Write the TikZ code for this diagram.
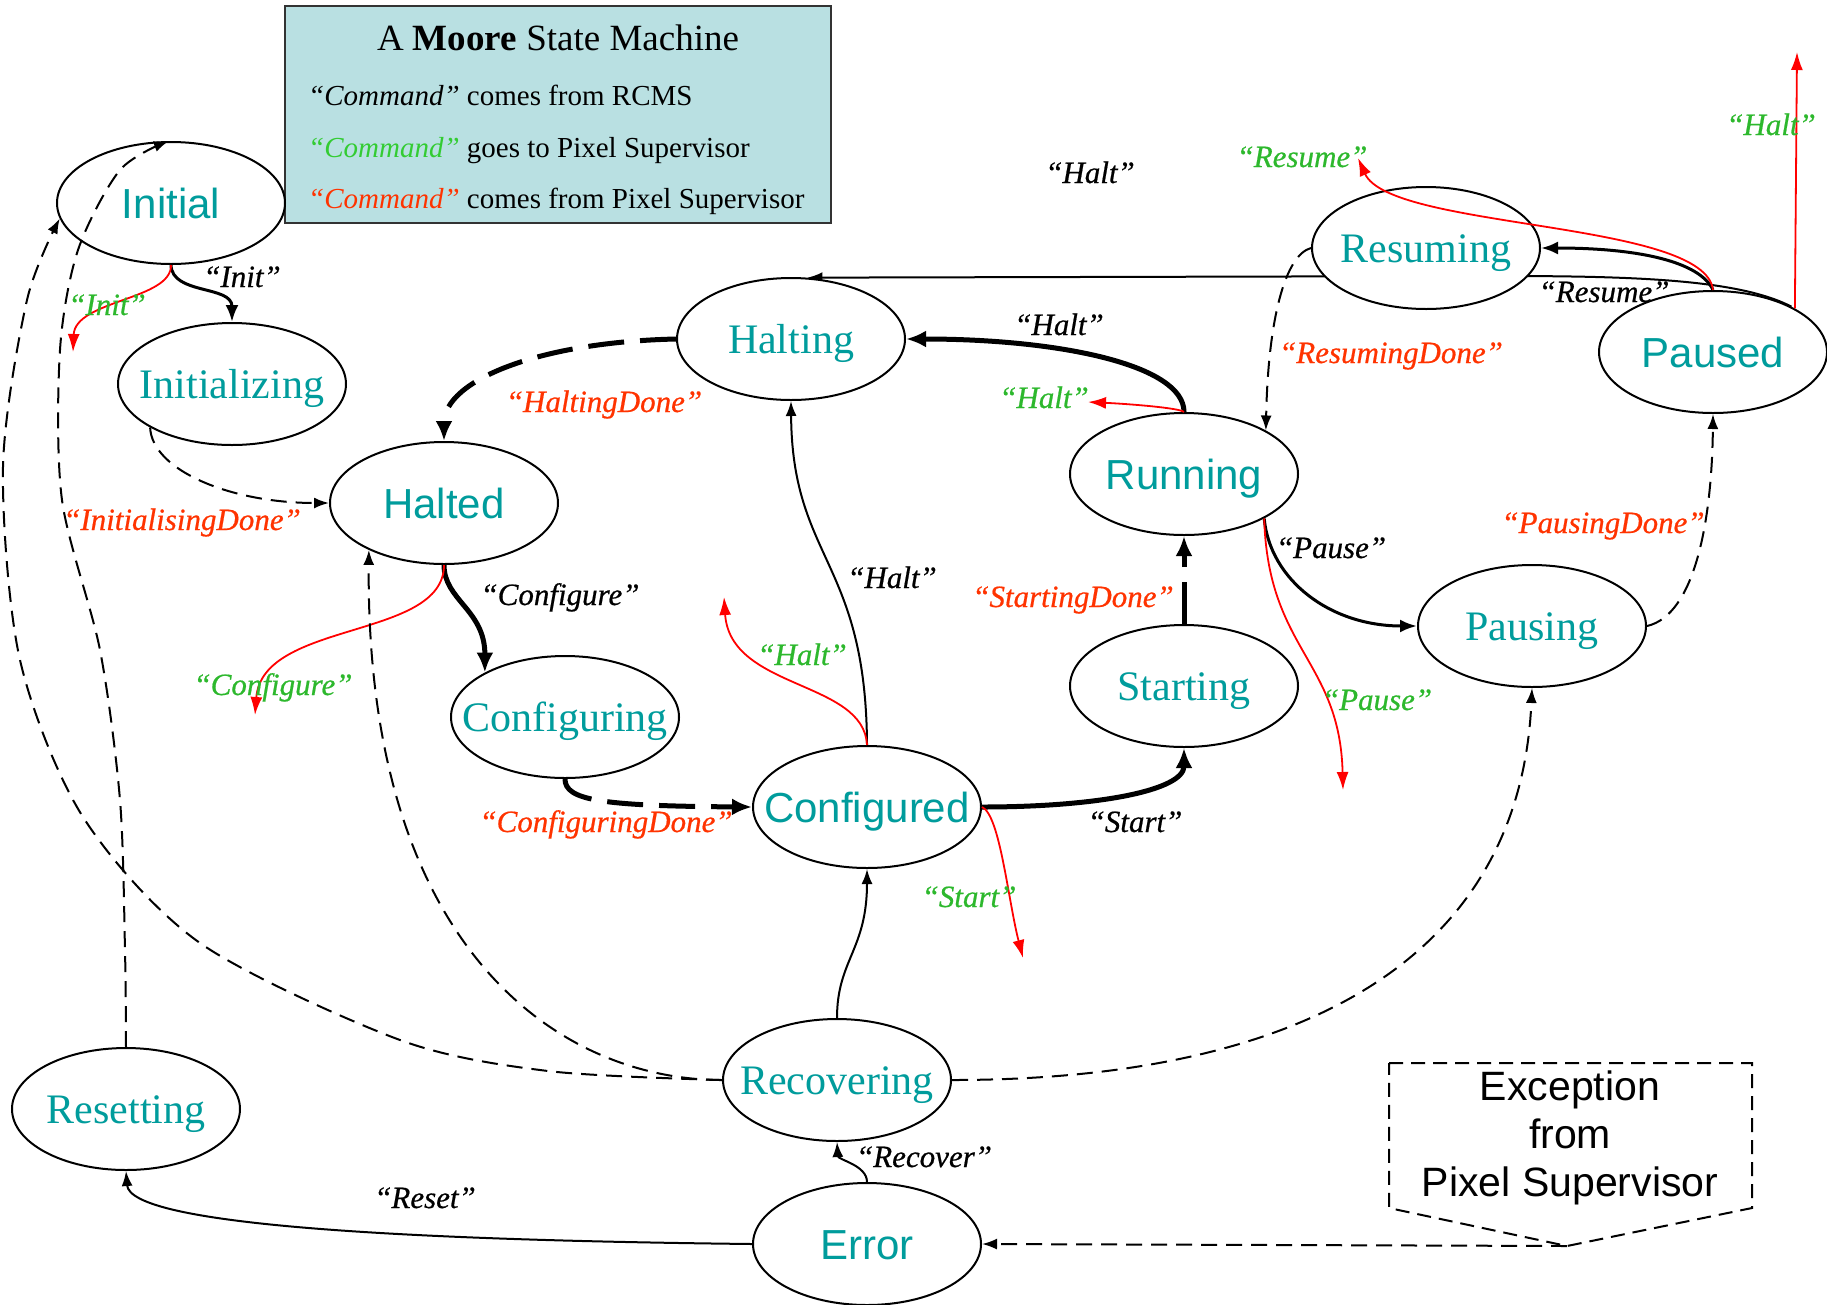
\documentclass[tikz,border=0pt]{standalone}
\usepackage{fontspec}
\setmainfont{Liberation Serif}
\setsansfont{Liberation Sans}
\usetikzlibrary{shapes.geometric,arrows.meta}
\definecolor{teal1}{HTML}{009C9C}
\definecolor{legfill}{HTML}{B9E0E2}
\definecolor{grn}{HTML}{2DB82D}
\definecolor{lgrn}{HTML}{33CC33}
\definecolor{rlabc}{HTML}{FF3300}
\definecolor{rline}{HTML}{FF0000}
\pgfdeclarelayer{bg}
\pgfsetlayers{bg,main}
\tikzset{
 st/.style={ellipse, draw, line width=2pt, fill=white, minimum width=228pt, minimum height=122pt, inner sep=0pt},
 sansname/.style={text height=30pt, text depth=0pt, text=teal1, font=\sffamily\fontsize{42}{42}\selectfont, inner sep=0pt},
 serifname/.style={text height=28pt, text depth=0pt, text=teal1, font=\rmfamily\fontsize{42}{42}\selectfont, inner sep=0pt},
 lab/.style={anchor=base, inner sep=0pt, font=\itshape\fontsize{31}{31}\selectfont\addfontfeature{FakeBold=0.6}},
 blab/.style={lab, text=black},
 glab/.style={lab, text=grn},
 rlab/.style={lab, text=rlabc},
 edge/.style={line width=2pt, -{Latex[length=15pt,width=11pt]}},
 medge/.style={line width=3pt, -{Latex[length=17pt,width=13pt]}},
 tedge/.style={line width=5pt, -{Latex[length=20pt,width=17pt]}},
 dedge/.style={edge, dash pattern=on 16pt off 9pt},
 tdedge/.style={tedge, dash pattern=on 36pt off 16pt},
 redge/.style={line width=1.8pt, draw=rline, -{Latex[length=18pt,width=12pt]}, color=rline},
}
\begin{document}
\begin{tikzpicture}[x=1pt,y=-1pt]
\useasboundingbox (0,0) rectangle (1827,1304);

% legend
\node[draw=black!80, line width=2.5pt, fill=legfill, minimum width=546pt, minimum height=217pt, inner sep=0pt] (leg) at (558,114.5) {};
\node[anchor=base, font=\fontsize{37}{37}\selectfont, inner sep=0pt] (legt) at (558,50) {A \textbf{Moore} State Machine};
\node[anchor=base west, font=\fontsize{29}{29}\selectfont, inner sep=0pt] (leg1) at (308,105) {\textit{“Command”} comes from RCMS};
\node[anchor=base west, font=\fontsize{29}{29}\selectfont, inner sep=0pt] (leg2) at (308,157) {\textit{\color{lgrn}“Command”} goes to Pixel Supervisor};
\node[anchor=base west, font=\fontsize{29}{29}\selectfont, inner sep=0pt] (leg3) at (308,208) {\textit{\color{rlabc}“Command”} comes from Pixel Supervisor};

% states
\node[st, label={[sansname]center:Initial}] (ini) at (171,203) {};
\node[st, label={[serifname]center:Initializing}] (izg) at (232,384) {};
\node[st, label={[sansname]center:Halted}] (hal) at (444,503) {};
\node[st, label={[serifname]center:Halting}] (hng) at (791,339) {};
\node[st, label={[serifname]center:Configuring}] (cfg) at (565,717) {};
\node[st, label={[sansname]center:Configured}] (cfd) at (867,807) {};
\node[st, label={[serifname]center:Starting}] (sta) at (1184,686) {};
\node[st, label={[sansname]center:Running}] (run) at (1184,474) {};
\node[st, label={[serifname]center:Pausing}] (psg) at (1532,626) {};
\node[st, label={[sansname]center:Paused}] (pau) at (1713,352) {};
\node[st, label={[serifname]center:Resuming}] (rsm) at (1426,248) {};
\node[st, label={[serifname]center:Recovering}] (rec) at (837,1080) {};
\node[st, label={[serifname]center:Resetting}] (rst) at (126,1109) {};
\node[st, label={[sansname]center:Error}] (err) at (867,1244) {};

% exception box
\coordinate (excp) at (1567,1246);
\draw[line width=2pt, dash pattern=on 14pt off 8pt] (1389,1063) -- (1752,1063) -- (1752,1208) -- (excp) -- (1389,1208) -- cycle;
\node[font=\sffamily\fontsize{41}{48}\selectfont, align=center, inner sep=0pt] (exc) at (1570,1138) {Exception\\from\\Pixel Supervisor};

% free arrow ends
\coordinate (r1) at (73,352);
\coordinate (r2) at (255,715);
\coordinate (r3) at (724,597);
\coordinate (r4) at (1023,958);
\coordinate (r5) at (1088,402);
\coordinate (r6) at (1343,790);
\coordinate (r7) at (1358,158);
\coordinate (r8) at (1797,52);

% background edge (behind Resuming)
\begin{pgfonlayer}{bg}
\draw[edge] (pau.30) .. controls (1740,280) and (1640,276) .. (1500,276) -- (hng.75);
\end{pgfonlayer}

% edges
\draw[medge] (ini.south) .. controls (172,295) and (232,285) .. (izg.north);
\draw[redge] (ini.south) .. controls (172,300) and (75,300) .. (r1);
\draw[dedge] (izg.208) .. controls (152,470) and (230,503) .. (hal.west);
\draw[tdedge] (hng.west) .. controls (540,342) and (444,380) .. (hal.north);
\draw[tedge] (hal.south) .. controls (444,600) and (485,610) .. (cfg.151);
\draw[redge] (hal.south) .. controls (444,640) and (262,620) .. (r2);
\draw[tdedge] (cfg.south) .. controls (565,800) and (600,806) .. (cfd.west);
\draw[edge] (cfd.north) .. controls (866,560) and (792,560) .. (hng.south);
\draw[redge] (cfd.north) .. controls (864,680) and (730,690) .. (r3);
\draw[tedge] (cfd.east) .. controls (1100,807) and (1184,790) .. (sta.south);
\draw[redge] (cfd.east) .. controls (1000,815) and (1008,900) .. (r4);
\draw[tedge, dash pattern=on 42pt off 15pt] (sta.north) -- (run.south);
\draw[tedge] (run.north) .. controls (1184,365) and (1060,339) .. (hng.east);
\draw[redge] (run.north) .. controls (1180,408) and (1130,404) .. (r5);
\draw[medge] (run.331) .. controls (1270,580) and (1330,626) .. (psg.west);
\draw[redge] (run.331) .. controls (1268,650) and (1340,660) .. (r6);
\draw[dedge] (psg.east) .. controls (1695,615) and (1712,520) .. (pau.south);
\draw[medge] (pau.north) .. controls (1700,262) and (1640,248) .. (rsm.east);
\draw[redge] (pau.north) .. controls (1705,220) and (1390,230) .. (r7);
\draw[redge] (pau.28) -- (r8);
\draw[dedge] (rsm.west) .. controls (1285,255) and (1268,320) .. (run.28);
\draw[edge] (rec.north) .. controls (837,960) and (867,950) .. (cfd.south);
\draw[dedge] (rec.west) .. controls (560,1080) and (365,950) .. (hal.212);
\draw[dedge] plot[smooth] coordinates {(rec.west) (548,1071) (400,1040) (200,943) (83,817) (20,660) (3,467) (27,300) (ini.188)};
\draw[dedge] plot[smooth] coordinates {(rst.north) (125,950) (120,800) (100,650) (62,500) (60,350) (78,250) (120,170) (ini.92)};
\draw[dedge] (rec.east) .. controls (1300,1080) and (1520,960) .. (psg.south);
\draw[edge] (err.north) .. controls (867,1165) and (838,1160) .. (rec.south);
\draw[edge] (err.west) .. controls (400,1240) and (130,1225) .. (rst.south);
\draw[dedge] (excp) -- (err.east);

% labels
\node[blab] (l1) at (242,287) {“Init”};
\node[glab] (l2) at (107,315) {“Init”};
\node[rlab] (l3) at (182,530) {“InitialisingDone”};
\node[rlab] (l4) at (604,412) {“HaltingDone”};
\node[blab] (l5) at (560,605) {“Configure”};
\node[glab] (l6) at (273,695) {“Configure”};
\node[rlab] (l7) at (606,832) {“ConfiguringDone”};
\node[blab] (l8) at (892,588) {“Halt”};
\node[glab] (l9) at (802,665) {“Halt”};
\node[blab] (l10) at (1135,832) {“Start”};
\node[glab] (l11) at (969,907) {“Start”};
\node[rlab] (l12) at (1073,607) {“StartingDone”};
\node[blab] (l13) at (1059,335) {“Halt”};
\node[glab] (l14) at (1044,408) {“Halt”};
\node[blab] (l15) at (1331,558) {“Pause”};
\node[glab] (l16) at (1377,710) {“Pause”};
\node[rlab] (l17) at (1603,533) {“PausingDone”};
\node[blab] (l18) at (1604,302) {“Resume”};
\node[glab] (l19) at (1302,167) {“Resume”};
\node[glab] (l20) at (1771,135) {“Halt”};
\node[blab] (l21) at (1090,183) {“Halt”};
\node[rlab] (l22) at (1391,363) {“ResumingDone”};
\node[blab] (l23) at (924,1167) {“Recover”};
\node[blab] (l24) at (425,1208) {“Reset”};
\end{tikzpicture}
\end{document}
